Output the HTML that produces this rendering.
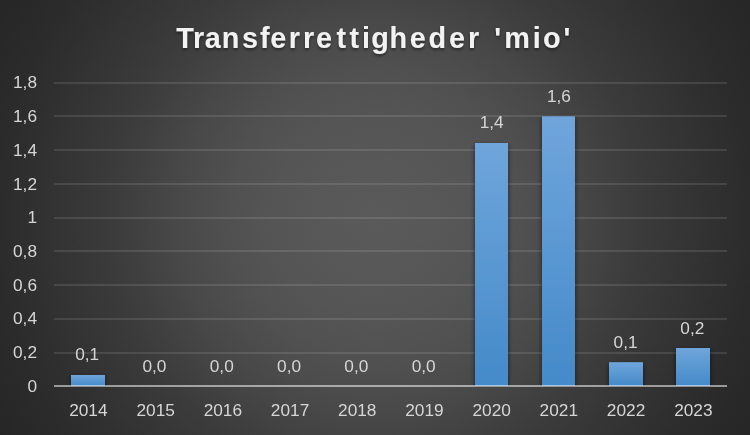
<!DOCTYPE html>
<html lang="da">
<head>
<meta charset="utf-8">
<title>Transferrettigheder 'mio'</title>
<style>
html,body{margin:0;padding:0;width:750px;height:435px;overflow:hidden;background:#262626}
svg{display:block}
text{font-family:"Liberation Sans",sans-serif}
.ax{font-size:16.0px;fill:#d6d6d6}
.title{font-size:29.6px;font-weight:bold;fill:#f2f2f2}
</style>
</head>
<body>
<svg width="750" height="435" viewBox="0 0 750 435">
<defs>
<radialGradient id="bg" gradientUnits="userSpaceOnUse" cx="375" cy="217.5" r="433">
<stop offset="0.000" stop-color="#5a5a5a"/>
<stop offset="0.115" stop-color="#585858"/>
<stop offset="0.231" stop-color="#555555"/>
<stop offset="0.346" stop-color="#505050"/>
<stop offset="0.473" stop-color="#474747"/>
<stop offset="0.600" stop-color="#3c3c3c"/>
<stop offset="0.725" stop-color="#343434"/>
<stop offset="0.859" stop-color="#2c2c2c"/>
<stop offset="1.000" stop-color="#262626"/>
</radialGradient>
<linearGradient id="bar" x1="0" y1="0" x2="0" y2="1">
<stop offset="0" stop-color="#6fa5db"/>
<stop offset="1" stop-color="#448ac9"/>
</linearGradient>
<filter id="ts" x="-5%" y="-30%" width="110%" height="180%">
<feDropShadow dx="0" dy="2" stdDeviation="1.5" flood-color="#000" flood-opacity="0.45"/>
</filter>
<filter id="bs" filterUnits="userSpaceOnUse" x="0" y="0" width="750" height="435">
<feDropShadow dx="0" dy="2" stdDeviation="2.5" flood-color="#000" flood-opacity="0.6"/>
</filter>
<clipPath id="pc"><rect x="0" y="0" width="750" height="387"/></clipPath>
</defs>
<rect width="750" height="435" fill="url(#bg)"/>

<g fill="#fff" fill-opacity="0.105">
<rect x="54.0" y="352" width="673.0" height="2"/>
<rect x="54.0" y="318" width="673.0" height="2"/>
<rect x="54.0" y="284" width="673.0" height="2"/>
<rect x="54.0" y="250" width="673.0" height="2"/>
<rect x="54.0" y="217" width="673.0" height="2"/>
<rect x="54.0" y="183" width="673.0" height="2"/>
<rect x="54.0" y="149" width="673.0" height="2"/>
<rect x="54.0" y="115" width="673.0" height="2"/>
<rect x="54.0" y="82" width="673.0" height="2"/>
</g>
<g clip-path="url(#pc)"><g fill="url(#bar)" filter="url(#bs)">
<rect x="71" y="375.0" width="34" height="11.0"/>
<rect x="475" y="143.0" width="33" height="243.0"/>
<rect x="542" y="116.3" width="33" height="269.7"/>
<rect x="609" y="362.2" width="34" height="23.8"/>
<rect x="676" y="348.0" width="34" height="38.0"/>
</g></g>
<rect x="54.0" y="385" width="673.0" height="2" fill="#fff" fill-opacity="0.52"/>
<g class="ax" text-anchor="end" transform="scale(1.08,1)">
<text x="34.26" y="391.6">0</text>
<text x="34.26" y="358.3">0,2</text>
<text x="34.26" y="324.0">0,4</text>
<text x="34.26" y="290.6">0,6</text>
<text x="34.26" y="256.6">0,8</text>
<text x="34.26" y="222.6">1</text>
<text x="34.26" y="189.6">1,2</text>
<text x="34.26" y="155.6">1,4</text>
<text x="34.26" y="121.6">1,6</text>
<text x="34.26" y="87.8">1,8</text>
</g>
<g class="ax" text-anchor="middle" transform="scale(1.08,1)">
<text x="81.81" y="416">2014</text>
<text x="144.12" y="416">2015</text>
<text x="206.34" y="416">2016</text>
<text x="268.56" y="416">2017</text>
<text x="330.79" y="416">2018</text>
<text x="393.01" y="416">2019</text>
<text x="455.23" y="416">2020</text>
<text x="517.45" y="416">2021</text>
<text x="579.68" y="416">2022</text>
<text x="641.99" y="416">2023</text>
<text x="80.69" y="360">0,1</text>
<text x="143.01" y="372">0,0</text>
<text x="205.32" y="372">0,0</text>
<text x="267.64" y="372">0,0</text>
<text x="329.95" y="372">0,0</text>
<text x="392.27" y="372">0,0</text>
<text x="455.23" y="128">1,4</text>
<text x="517.55" y="102.0">1,6</text>
<text x="579.21" y="347.6">0,1</text>
<text x="641.06" y="334">0,2</text>
</g>
<text class="title" transform="translate(0,48.4) scale(0.975,1)" x="180.8 197.9 209.9 227.5 248.2 266.6 277.1 296.2 310.8 324.0 345.1 358.5 371.3 380.9 399.5 420.2 439.6 460.5 480.1 493.7 507.0 517.3 546.5 557.0 578.0" y="0" filter="url(#ts)">Transferrettigheder 'mio'</text>
</svg>
</body>
</html>
